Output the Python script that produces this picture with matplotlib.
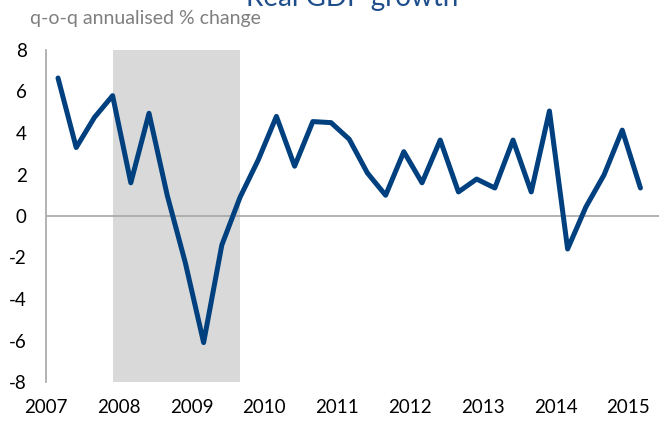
import numpy as np
import matplotlib
matplotlib.use("Agg")
import matplotlib.pyplot as plt

plt.rcParams['font.family'] = ['Lato', 'DejaVu Sans']
plt.rcParams['axes.unicode_minus'] = False

# q-o-q annualised real GDP growth, quarterly from 2007
growth = [6.65, 3.3, 4.75, 5.8, 1.6, 4.95, 1.0, -2.27, -6.1, -1.4, 0.9,
          2.7, 4.8, 2.4, 4.55, 4.5, 3.7, 2.07, 1.0, 3.1, 1.6, 3.66, 1.16,
          1.78, 1.35, 3.66, 1.16, 5.06, -1.59, 0.43, 1.98, 4.14, 1.35]
year_labels = ['2007', '2008', '2009', '2010', '2011', '2012', '2013', '2014', '2015']
recession = (2007.92, 2009.665)

quarters = 2007.165 + 0.25 * np.arange(len(growth))
years = [int(y) for y in year_labels]

fig = plt.figure(figsize=(6.59, 4.21), dpi=100)
ax = fig.add_axes([46 / 659, 39 / 421, 613 / 659, 332 / 421])

ax.axvspan(recession[0], recession[1], color='#d9d9d9', lw=0, zorder=0)
ax.axhline(0, color='#a6a6a6', lw=1.2, zorder=1)
ax.plot(quarters, growth, color='#00407f', lw=3.6, solid_joinstyle='round',
        solid_capstyle='round', zorder=3)

ax.set_xlim(2007, 2015.42)
ax.set_ylim(-8, 8)
ax.set_yticks(range(-8, 9, 2))
ax.set_xticks(years)
ax.set_xticklabels(year_labels)

for s in ['top', 'right', 'bottom']:
    ax.spines[s].set_visible(False)
ax.spines['left'].set_color('#a6a6a6')
ax.spines['left'].set_linewidth(1.2)
ax.tick_params(axis='y', length=0, pad=14, labelsize=13.5, labelcolor='black')
ax.tick_params(axis='x', length=0, pad=12, labelsize=13.5, labelcolor='black')

fig.text(30 / 659, 1 - 24 / 421, 'q-o-q annualised % change', fontsize=14,
         color='#7f7f7f', ha='left', va='baseline')
fig.text(352 / 659, 1 - 6 / 421, 'Real GDP growth', fontsize=20,
         color='#1f4e8c', ha='center', va='baseline')

fig.savefig('out.png', dpi=100)
